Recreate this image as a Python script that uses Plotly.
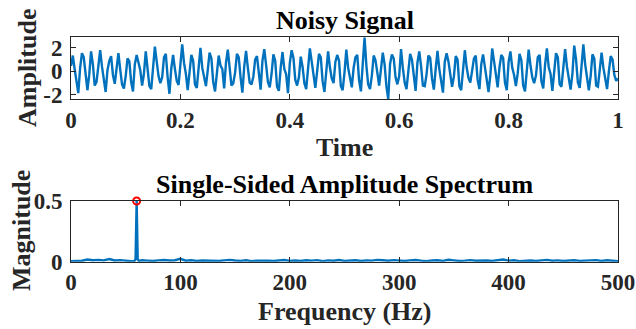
import plotly.graph_objects as go

# ---------------- data ----------------
sample_rate = 300  # samples per second of the transcribed signal
signal_values = [
    0.45, 1.35, 0.2, -1.0, -1.85,
    0.3, 1.55, 1.2, -0.1, -1.6,
    -0.3, 1.7, 0.6, -1.2, -0.9,
    0.8, 1.8, 0.4, -0.6, -1.75,
    0.1, 0.9, 1.3, -0.3, -1.05,
    0.5, 1.55, 0.15, -1.1, -1.45,
    -0.4, 1.1, 0.85, -0.9, -1.7,
    0.6, 1.4, 0.75, 0.1, -1.2,
    -0.2, 1.7, 0.3, -1.25, -1.5,
    0.7, 2.1, 0.85, -0.4, -1.0,
    -0.5, 1.2, 1.5, -0.5, -1.9,
    0.25, 1.4, 0.2, -0.8, -1.15,
    1.0, 2.3, 0.7, -0.2, -1.6,
    -0.35, 1.4, 0.9, -1.1, -1.4,
    0.6, 2.0, 0.3, -0.45, -1.25,
    0.1, 1.6, 1.1, -0.9, -1.7,
    -0.2, 1.35, 0.5, 0.2, -1.45,
    0.75, 1.85, 0.4, -1.2, -1.0,
    -0.1, 1.5, 1.2, -0.5, -1.8,
    0.4, 1.75, 0.3, -0.95, -1.1,
    -0.45, 1.0, 1.3, -0.1, -1.55,
    0.9, 1.9, 0.55, -0.9, -1.35,
    -0.2, 1.45, 0.9, -1.3, -1.65,
    0.3, 1.65, 0.2, -0.25, -1.85,
    0.7, 1.8, 1.15, -0.7, -1.2,
    -0.5, 1.25, 0.4, -1.0, -1.5,
    0.55, 1.95, 0.85, -0.3, -1.4,
    0.0, 1.5, 1.2, -0.85, -1.75,
    -0.3, 1.7, 0.35, -0.6, -1.0,
    0.8, 1.4, 0.9, -1.25, -1.6,
    -0.1, 1.85, 0.3, -0.4, -1.35,
    0.3, 1.2, 1.4, -0.75, -1.7,
    0.9, 2.9, 0.5, -1.1, -1.5,
    -0.35, 1.35, 0.95, -0.1, -1.2,
    0.2, 1.6, 0.6, -1.3, -2.37,
    0.65, 1.45, 1.1, -0.5, -1.1,
    -0.4, 1.9, 0.3, -0.95, -1.5,
    0.3, 1.5, 1.0, -0.2, -1.65,
    0.75, 1.7, 0.45, -1.2, -1.25,
    -0.25, 1.35, 1.15, -0.6, -1.55,
    0.2, 1.75, 0.2, -0.9, -1.8,
    0.8, 1.55, 0.85, -0.15, -1.3,
    -0.45, 1.3, 1.0, -1.25, -1.6,
    0.5, 1.8, 0.35, -0.55, -0.95,
    0.1, 1.1, 1.35, -0.7, -1.5,
    0.6, 1.45, 0.25, -1.05, -1.75,
    -0.3, 1.95, 0.9, -0.4, -1.35,
    0.35, 1.4, 1.15, -0.95, -1.6,
    0.8, 1.7, 0.3, -0.3, -1.25,
    -0.15, 1.5, 0.95, -1.2, -1.7,
    0.4, 1.85, 0.5, -0.5, -1.0,
    -0.35, 1.2, 1.4, -0.85, -1.45,
    0.55, 1.95, 0.35, -0.2, -1.65,
    0.1, 1.55, 1.2, -1.1, -1.3,
    0.7, 1.9, 0.4, -0.6, -1.55,
    -0.2, 2.2, 1.0, -0.95, -1.4,
    0.9, 2.3, 0.6, -0.35, -1.6,
    -0.4, 1.45, 1.1, -1.2, -1.3,
    0.5, 1.6, 0.3, -0.65, -1.5,
    0.0, 1.3, 1.0, -0.3, -0.8,
    -0.6,
]
time_values = [i / sample_rate for i in range(len(signal_values))]

freq_values = [0, 5, 10, 15, 20, 25, 30, 35, 40, 45, 50, 55, 58, 59, 60, 61, 62,
               65, 70, 75, 80, 85, 90, 95, 100, 105, 110, 115, 120, 125, 130, 135,
               140, 145, 150, 155, 160, 165, 170, 175, 180, 185, 190, 195, 200,
               205, 210, 215, 220, 225, 230, 235, 240, 245, 250, 255, 260, 265,
               270, 275, 280, 285, 290, 295, 300, 305, 310, 315, 320, 325, 330,
               335, 340, 345, 350, 355, 360, 365, 370, 375, 380, 385, 390, 395,
               400, 405, 410, 415, 420, 425, 430, 435, 440, 445, 450, 455, 460,
               465, 470, 475, 480, 485, 490, 495, 500]
mag_values = [0.004, 0.006, 0.008, 0.018, 0.012, 0.015, 0.011, 0.022, 0.010, 0.013,
              0.007, 0.005, 0.006, 0.02, 0.5, 0.02, 0.006,
              0.012, 0.009, 0.006, 0.011, 0.014, 0.010, 0.012, 0.024, 0.008, 0.012,
              0.006, 0.010, 0.007, 0.009, 0.006, 0.011, 0.015, 0.010, 0.007, 0.012,
              0.005, 0.009, 0.011, 0.008, 0.006, 0.012, 0.014, 0.007, 0.010, 0.006,
              0.012, 0.009, 0.013, 0.005, 0.011, 0.008, 0.014, 0.007, 0.010, 0.012,
              0.006, 0.011, 0.009, 0.015, 0.012, 0.008, 0.013, 0.010, 0.006, 0.011,
              0.014, 0.009, 0.005, 0.010, 0.012, 0.007, 0.016, 0.011, 0.006, 0.009,
              0.013, 0.008, 0.012, 0.010, 0.007, 0.011, 0.018, 0.009, 0.012, 0.005,
              0.008, 0.010, 0.006, 0.009, 0.015, 0.008, 0.011, 0.006, 0.009, 0.012,
              0.007, 0.011, 0.009, 0.013, 0.006, 0.012, 0.008, 0.004]

peak_index = mag_values.index(max(mag_values))
peak_freq = [freq_values[peak_index]]
peak_mag = [mag_values[peak_index]]

time_ticks = [0, 0.2, 0.4, 0.6, 0.8, 1]
time_tick_labels = ["0", "0.2", "0.4", "0.6", "0.8", "1"]
amp_ticks = [-2, 0, 2]
amp_tick_labels = ["-2", "0", "2"]
freq_ticks = [0, 100, 200, 300, 400, 500]
freq_tick_labels = ["0", "100", "200", "300", "400", "500"]
mag_ticks = [0, 0.5]
mag_tick_labels = ["0", "0.5"]

# ---------------- figure ----------------
W, H = 636, 329
BLUE = "#0072BD"
AXC = "#262626"
FONT = "Liberation Serif"

def px(x):
    return x / W

def py(y):
    return 1 - y / H

fig = go.Figure()
fig.add_trace(go.Scatter(x=time_values, y=signal_values, mode="lines",
                         line=dict(color=BLUE, width=2.4), xaxis="x", yaxis="y",
                         cliponaxis=False, showlegend=False))
fig.add_trace(go.Scatter(x=freq_values, y=mag_values, mode="lines",
                         line=dict(color=BLUE, width=2.4), xaxis="x2", yaxis="y2",
                         cliponaxis=False, showlegend=False))
fig.add_trace(go.Scatter(x=peak_freq, y=peak_mag, mode="markers",
                         marker=dict(symbol="circle-open", color="red", size=7,
                                     line=dict(width=2, color="red")),
                         xaxis="x2", yaxis="y2", cliponaxis=False, showlegend=False))

tickfont = dict(family=FONT, size=23, color=AXC, weight="bold")
common = dict(showline=True, linecolor=AXC, linewidth=1, mirror="ticks",
              ticks="inside", ticklen=5, tickcolor=AXC, tickwidth=1,
              showgrid=False, zeroline=False, tickfont=tickfont, automargin=False)
ycommon = dict(common, ticklabelstandoff=3)

xdom = [px(71), px(618)]
fig.update_layout(
    width=W, height=H, autosize=False,
    margin=dict(l=0, r=0, t=0, b=0, pad=0, autoexpand=False),
    paper_bgcolor="white", plot_bgcolor="white",
    xaxis=dict(domain=xdom, range=[0, 1], tickvals=time_ticks,
               ticktext=time_tick_labels, anchor="y", **common),
    yaxis=dict(domain=[py(99.3), py(37.3)],
               range=[min(signal_values), max(signal_values)],
               tickvals=amp_ticks, ticktext=amp_tick_labels, anchor="x", **ycommon),
    xaxis2=dict(domain=xdom, range=[0, 500], tickvals=freq_ticks,
                ticktext=freq_tick_labels, anchor="y2", **common),
    yaxis2=dict(domain=[py(261.7), py(201)], range=[0, 0.5],
                tickvals=mag_ticks, ticktext=mag_tick_labels, anchor="x2", **ycommon),
)

labfont = dict(family=FONT, size=26, color=AXC, weight="bold")
titfont = dict(family=FONT, size=26, color="black", weight="bold")
ann = [
    dict(text="Noisy Signal", x=px(344.5), y=py(20), font=titfont),
    dict(text="Time", x=px(344.5), y=py(148), font=labfont),
    dict(text="Single-Sided Amplitude Spectrum", x=px(344.5), y=py(184), font=titfont),
    dict(text="Frequency (Hz)", x=px(344.5), y=py(311), font=labfont),
    dict(text="Amplitude", x=px(27), y=py(68), font=labfont, textangle=-90),
    dict(text="Magnitude", x=px(21), y=py(231), font=labfont, textangle=-90),
]
for a in ann:
    fig.add_annotation(xref="paper", yref="paper", showarrow=False,
                       xanchor="center", yanchor="middle", **a)

fig.write_html("out.html")
